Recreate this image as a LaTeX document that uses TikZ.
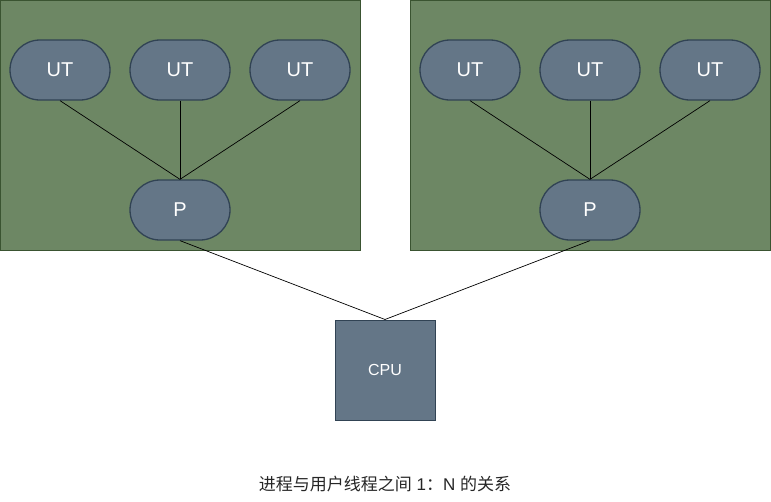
\documentclass[tikz,border=0pt]{standalone}
\usepackage{fontspec}
\setmainfont{Liberation Sans}
\newfontfamily\cjk{Noto Sans CJK SC}
\usetikzlibrary{shapes}
\definecolor{grpfill}{HTML}{6D8764}
\definecolor{grpline}{HTML}{3A5431}
\definecolor{ndfill}{HTML}{647687}
\definecolor{ndline}{HTML}{314354}

\begin{document}
\begin{tikzpicture}[x=1pt,y=-1pt,
	group/.style={draw=grpline, fill=grpfill, line width=1pt},
	thread/.style={draw=ndline, fill=ndfill, line width=1.3pt, rounded rectangle, minimum width=100pt, minimum height=60pt, inner sep=0pt, text=white, font=\fontsize{20}{22}\selectfont},
	cpu/.style={draw=ndline, fill=ndfill, line width=1pt, minimum width=100pt, minimum height=100pt, inner sep=0pt, text=white, font=\fontsize{16}{18}\selectfont},
	link/.style={line width=0.7pt}]
			\useasboundingbox (0,0) rectangle (771,501);
			
			\draw[group](0.5,0.5) rectangle (360,250);
			\draw[group](410,0.5) rectangle (770,250);
			
			\node[thread](ut1) at (60,70) {UT};
			\node[thread](ut2) at (180,70) {UT};
			\node[thread](ut3) at (300,70) {UT};
			\node[thread](p1) at (180,210) {P};
			
			\node[thread](ut4) at (470,70) {UT};
			\node[thread](ut5) at (590,70) {UT};
			\node[thread](ut6) at (710,70) {UT};
			\node[thread](p2) at (590,210) {P};
			
			\node[cpu](cpu) at (385,370) {CPU};
			
			\draw[link](ut1.south)--(p1.north);
			\draw[link](ut2.south)--(p1.north);
			\draw[link](ut3.south)--(p1.north);
			\draw[link](ut4.south)--(p2.north);
			\draw[link](ut5.south)--(p2.north);
			\draw[link](ut6.south)--(p2.north);
			
			\draw[link](p1.south)--(cpu.north);
			\draw[link](p2.south)--(cpu.north);
			
			\node[font=\fontsize{17}{19}\selectfont, text=black!85](caption) at (385,484) {{\cjk 进程与用户线程之间}\ 1{\cjk ：}N {\cjk 的关系}};
\end{tikzpicture}
\end{document}
